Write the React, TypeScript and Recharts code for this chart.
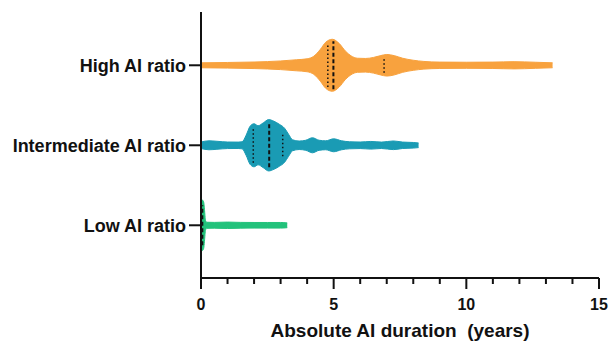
import { Area, ComposedChart, ReferenceLine, XAxis, YAxis } from "recharts";

// categories sit at y = 1, 2, 3 (bottom to top)
const categories = ["Low AI ratio", "Intermediate AI ratio", "High AI ratio"];
const xTicks = [0, 1, 2, 3, 4, 5, 6, 7, 8, 9, 10, 11, 12, 13, 14, 15];

// violin outlines: duration (years) and half-width (in category units)
const highYears = [0, 1, 2, 3, 3.6, 4.0, 4.25, 4.5, 4.7, 4.95, 5.2, 5.45, 5.65, 5.9, 6.2, 6.5, 6.75, 7.0, 7.3, 7.6, 8.0, 8.4, 9.0, 10, 11, 11.8, 12.6, 13.25];
const highWidth = [0.031, 0.035, 0.041, 0.054, 0.069, 0.081, 0.113, 0.2, 0.288, 0.325, 0.275, 0.175, 0.119, 0.088, 0.085, 0.098, 0.119, 0.135, 0.119, 0.088, 0.063, 0.048, 0.04, 0.038, 0.04, 0.045, 0.038, 0.031];

const midYears = [0, 0.3, 0.6, 1.0, 1.4, 1.55, 1.7, 1.85, 2.0, 2.15, 2.35, 2.55, 2.75, 2.95, 3.15, 3.3, 3.45, 3.7, 3.95, 4.2, 4.45, 4.7, 5.0, 5.3, 5.6, 6.0, 6.4, 6.8, 7.25, 7.6, 8.0, 8.2];
const midWidth = [0.041, 0.056, 0.05, 0.041, 0.04, 0.044, 0.125, 0.238, 0.269, 0.244, 0.281, 0.321, 0.3, 0.263, 0.213, 0.138, 0.069, 0.053, 0.063, 0.094, 0.063, 0.056, 0.081, 0.056, 0.044, 0.041, 0.048, 0.04, 0.054, 0.04, 0.035, 0.029];

const lowYears = [0, 0.05, 0.1, 0.13, 0.17, 0.22, 0.5, 1.0, 1.5, 2.0, 2.5, 3.0, 3.25];
const lowWidth = [0.3, 0.315, 0.29, 0.2, 0.06, 0.038, 0.036, 0.04, 0.036, 0.035, 0.035, 0.035, 0.03];

// quartile markers: [q1, median, q3] position and half-length
const highQuart = [4.78, 4.99, 6.9];
const highQuartWidth = [0.27, 0.3, 0.094];
const midQuart = [1.97, 2.57, 3.08];
const midQuartWidth = [0.219, 0.275, 0.138];
const lowQuart = [0.05];
const lowQuartWidth = [0.25];

const FONT = '"Liberation Sans", Arial, sans-serif';
const INK = "#111";

type Violin = {
  level: number;
  color: string;
  years: number[];
  width: number[];
  quart: number[];
  quartWidth: number[];
  medianIdx: number;
};

const violins: Violin[] = [
  { level: 3, color: "#F8A23E", years: highYears, width: highWidth, quart: highQuart, quartWidth: highQuartWidth, medianIdx: 1 },
  { level: 2, color: "#1A9BB4", years: midYears, width: midWidth, quart: midQuart, quartWidth: midQuartWidth, medianIdx: 1 },
  { level: 1, color: "#22C27B", years: lowYears, width: lowWidth, quart: lowQuart, quartWidth: lowQuartWidth, medianIdx: 0 },
];

function XTick(props: any) {
  const { x, y, payload } = props;
  const major = payload.value % 5 === 0;
  return (
    <g>
      <line x1={x} x2={x} y1={y} y2={y + (major ? 11 : 6)} stroke={INK} strokeWidth={2} />
      {major && (
        <text x={x} y={y + 32} textAnchor="middle" fontSize={16} fontWeight={700} fill={INK} fontFamily={FONT}>
          {payload.value}
        </text>
      )}
    </g>
  );
}

export default function App() {
  return (
    <div>
      <style>{"body{margin:0}"}</style>
      <ComposedChart
        width={610}
        height={342}
        margin={{ top: 12, right: 11, left: 0, bottom: 0 }}
        style={{ fontFamily: FONT }}
      >
        <XAxis
          type="number"
          dataKey="x"
          domain={[0, 15]}
          ticks={xTicks}
          interval={0}
          allowDataOverflow
          height={64}
          tickSize={0}
          tickMargin={0}
          tickLine={false}
          tick={<XTick />}
          axisLine={{ stroke: INK, strokeWidth: 2 }}
          label={{
            value: "Absolute AI duration\u00A0 (years)",
            position: "insideBottom",
            offset: 5,
            fill: INK,
            fontSize: 19,
            fontWeight: 700,
          }}
        />
        <YAxis
          type="number"
          domain={[0.341, 3.666]}
          ticks={[1, 2, 3]}
          allowDataOverflow
          width={201}
          tickSize={12}
          tickMargin={3}
          tickFormatter={(v: number) => categories[v - 1] ?? ""}
          tick={{ fill: INK, fontSize: 18, fontWeight: 700 }}
          tickLine={{ stroke: INK, strokeWidth: 2 }}
          axisLine={{ stroke: INK, strokeWidth: 2 }}
        />
        {violins.map((v) => (
          <Area
            key={v.level}
            data={v.years.map((yr, i) => ({ x: yr, band: [v.level - v.width[i], v.level + v.width[i]] }))}
            dataKey="band"
            type="monotone"
            fill={v.color}
            fillOpacity={1}
            stroke={v.color}
            strokeWidth={1}
            dot={false}
            activeDot={false}
            isAnimationActive={false}
          />
        ))}
        {violins.flatMap((v) =>
          v.quart.map((q, i) => (
            <ReferenceLine
              key={`${v.level}-${i}`}
              segment={[
                { x: q, y: v.level - v.quartWidth[i] },
                { x: q, y: v.level + v.quartWidth[i] },
              ]}
              stroke={INK}
              strokeWidth={i === v.medianIdx ? 2 : 1.5}
              strokeDasharray={i === v.medianIdx ? "4 2.5" : "1.5 2.5"}
              ifOverflow="visible"
            />
          ))
        )}
      </ComposedChart>
    </div>
  );
}
